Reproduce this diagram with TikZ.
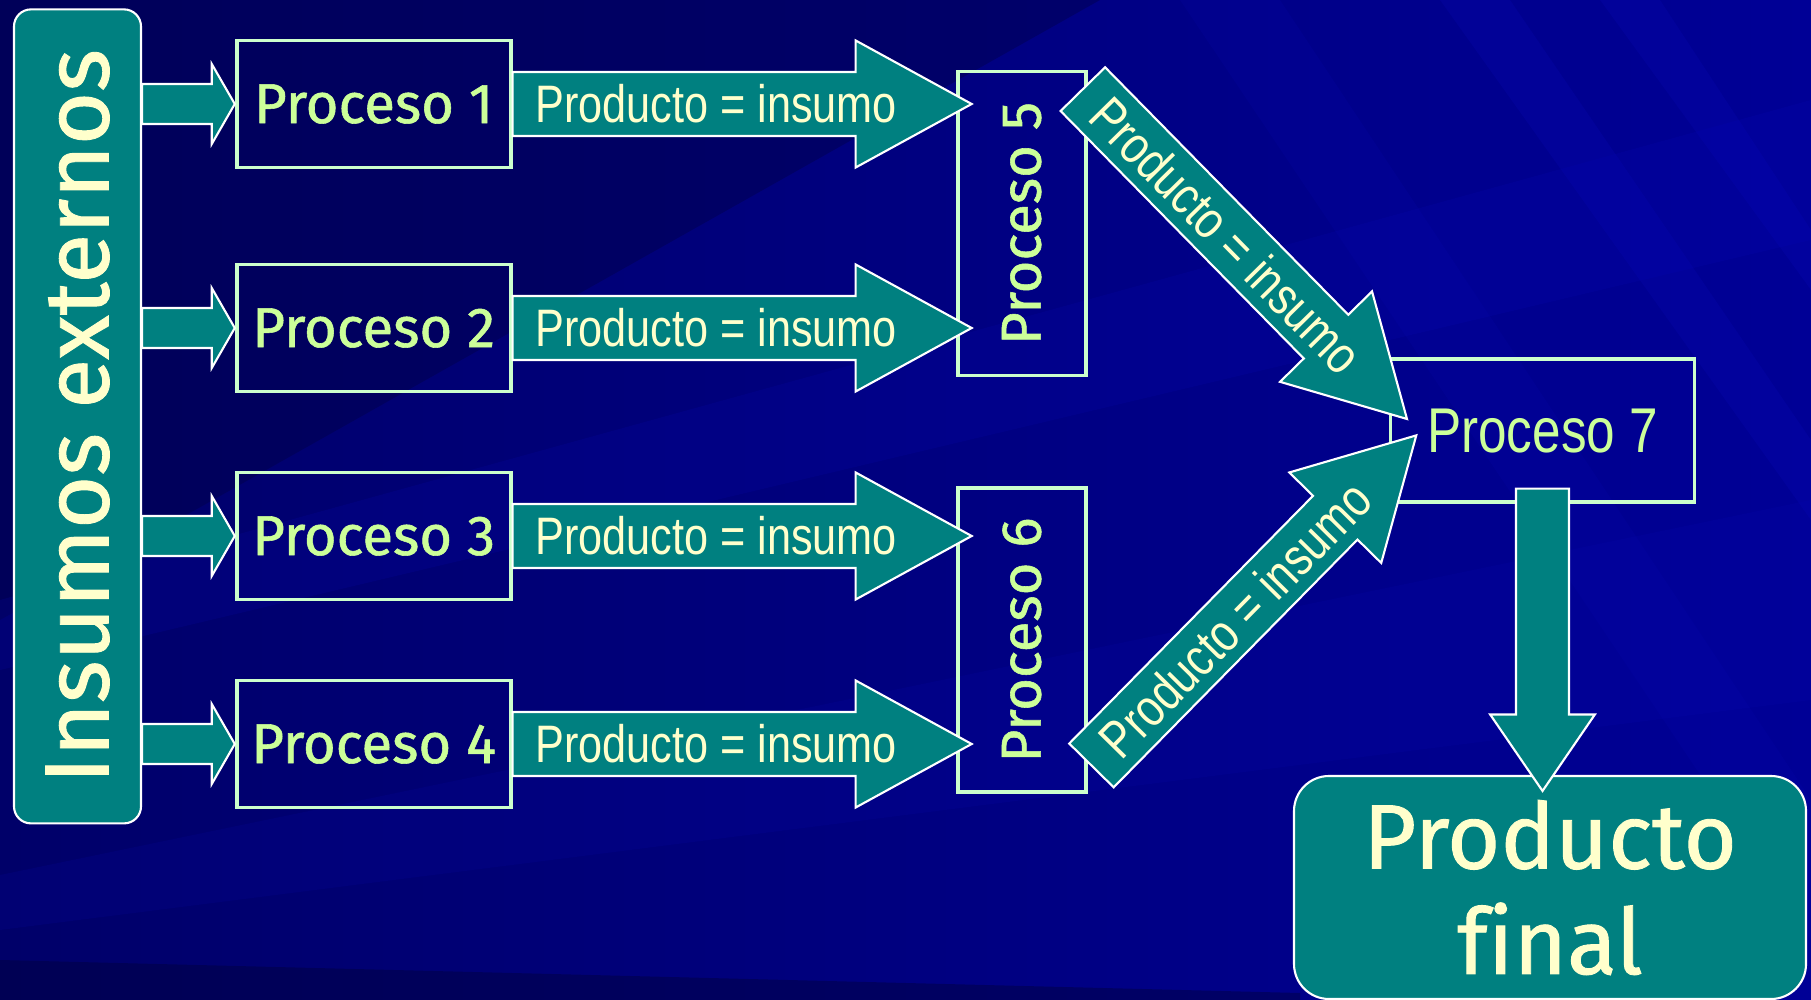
\documentclass[tikz,border=0pt]{standalone}
\usepackage{fontspec}
\newfontfamily\comicfont[Ligatures=NoCommon,FakeBold=1]{Fira Sans}
\newfontfamily\narrowfont{Liberation Sans}
\usetikzlibrary{%
  calc,%
  positioning% wg. " of "
}
\definecolor{teal0}{RGB}{0,128,128}
\definecolor{mint}{RGB}{204,255,204}
\definecolor{lightgreen}{RGB}{204,255,153}
\definecolor{lightyellow}{RGB}{255,255,204}
\definecolor{bgleft}{RGB}{0,0,105}
\definecolor{bgright}{RGB}{0,0,150}
\definecolor{bgdark}{RGB}{0,0,60}
\definecolor{bglight}{RGB}{10,10,190}

% block arrow: from, to, body half width, head half width, head length
\newcommand{\blockarrow}[5]{%
  \coordinate (hb) at ($(#2)!#5!(#1)$);
  \filldraw[blockfill] ($(#1)!#3!90:(#2)$) -- ($(hb)!#3!90:(#2)$) -- ($(hb)!#4!90:(#2)$) -- (#2)
    -- ($(hb)!#4!-90:(#2)$) -- ($(hb)!#3!-90:(#2)$) -- ($(#1)!#3!-90:(#2)$) -- cycle;
}
\newcommand{\prodins}{\scalebox{0.82}[1]{Producto = insumo}}

\begin{document}
\begin{tikzpicture}
[line width=0.6pt,
sidebox/.style={rectangle, draw=white, fill=teal0, rounded corners=0.17cm, inner sep=0pt},
procbox/.style={rectangle, draw=mint, line width=1.1pt, inner sep=0pt, minimum width=2.74cm, minimum height=1.27cm, text=lightgreen, font=\comicfont\fontsize{16}{19}\selectfont},
tallbox/.style={rectangle, draw=mint, line width=1.1pt, inner sep=0pt, minimum width=1.28cm, minimum height=3.04cm},
vtext/.style={rotate=90, inner sep=0pt, text=lightgreen, font=\comicfont\fontsize{16}{19}\selectfont},
blockfill/.style={fill=teal0, draw=white, line width=0.6pt},
prodlabel/.style={pos=0.443, sloped, inner sep=0pt, text=lightyellow, font=\narrowfont\fontsize{15}{18}\selectfont}
]

\shade[left color=bgleft, right color=bgright] (0,0) rectangle (18.11,-10);
\fill[bgdark, opacity=0.35] (0,0) -- (11,0) -- (0,-6.2) -- cycle;
\fill[bglight, opacity=0.15] (0,-6.0) -- (18.11,-1.0) -- (18.11,-2.4) -- (0,-6.7) -- cycle;
\fill[bglight, opacity=0.12] (0,-8.75) -- (18.11,-5.0) -- (18.11,-7.0) -- (0,-9.3) -- cycle;
\fill[bglight, opacity=0.2] (14.4,0) -- (15.1,0) -- (18.11,-4.4) -- (18.11,-5.2) -- cycle;
\fill[bglight, opacity=0.2] (16.0,0) -- (16.6,0) -- (18.11,-2.3) -- (18.11,-2.9) -- cycle;
\fill[bglight, opacity=0.12] (11.8,0) -- (12.8,0) -- (18.11,-8.0) -- (18.11,-9.4) -- cycle;
\fill[bgdark, opacity=0.45] (0,-9.6) -- (13,-9.93) -- (13,-10) -- (0,-10) -- cycle;
\useasboundingbox (0,0) rectangle (18.11,-10);

\node[sidebox, minimum width=1.27cm, minimum height=8.14cm] (ins) at (0.775,-4.164) {};
\node[rotate=90, inner sep=0pt, text=lightyellow, font=\comicfont\fontsize{26}{30}\selectfont] (instext) at (ins) {Insumos externos};

\node[procbox] (pr1) at (3.737,-1.04) {Proceso 1};
\node[procbox] (pr2) at (3.737,-3.28) {Proceso 2};
\node[procbox] (pr3) at (3.737,-5.36) {Proceso 3};
\node[procbox] (pr4) at (3.737,-7.44) {Proceso 4};

\node[tallbox] (pr5) at (10.216,-2.235) {};
\node[vtext] (pr5text) at (pr5) {Proceso 5};
\node[tallbox] (pr6) at (10.216,-6.40) {};
\node[vtext] (pr6text) at (pr6) {Proceso 6};

\node[rectangle, draw=mint, line width=1.1pt, inner sep=0pt, minimum width=3.04cm, minimum height=1.43cm, text=lightgreen, font=\narrowfont\fontsize{18}{21}\selectfont] (pr7) at (15.425,-4.308) {\scalebox{0.81}[1]{Proceso 7}};

\node[sidebox, rounded corners=0.35cm, minimum width=5.12cm, minimum height=2.23cm, align=center, text=lightyellow, font=\comicfont\fontsize{26}{30}\selectfont] (fin) at (15.50,-8.875) {Producto\\final};

\blockarrow{ins.east |- pr1.west}{pr1.west}{0.2cm}{0.4cm}{0.23cm}
\blockarrow{ins.east |- pr2.west}{pr2.west}{0.2cm}{0.4cm}{0.23cm}
\blockarrow{ins.east |- pr3.west}{pr3.west}{0.2cm}{0.4cm}{0.23cm}
\blockarrow{ins.east |- pr4.west}{pr4.west}{0.2cm}{0.4cm}{0.23cm}

\coordinate (in1) at ($(pr5.west |- pr1.east)+(0.16,0)$);
\coordinate (in2) at ($(pr5.west |- pr2.east)+(0.16,0)$);
\coordinate (in3) at ($(pr6.west |- pr3.east)+(0.16,0)$);
\coordinate (in4) at ($(pr6.west |- pr4.east)+(0.16,0)$);

\blockarrow{pr1.east}{in1}{0.32cm}{0.635cm}{1.16cm}
\path (pr1.east) -- (in1) node[prodlabel] (lab1) {\prodins};
\blockarrow{pr2.east}{in2}{0.32cm}{0.635cm}{1.16cm}
\path (pr2.east) -- (in2) node[prodlabel] (lab2) {\prodins};
\blockarrow{pr3.east}{in3}{0.32cm}{0.635cm}{1.16cm}
\path (pr3.east) -- (in3) node[prodlabel] (lab3) {\prodins};
\blockarrow{pr4.east}{in4}{0.32cm}{0.635cm}{1.16cm}
\path (pr4.east) -- (in4) node[prodlabel] (lab4) {\prodins};

\coordinate (out5) at ($(pr5.north east)+(-0.047,-0.196)$);
\coordinate (in7a) at ($(pr7.west)+(0.184,0.118)$);
\blockarrow{out5}{in7a}{0.312cm}{0.645cm}{1.155cm}
\path (out5) -- (in7a) node[prodlabel] (lab5) {\prodins};

\coordinate (out6) at ($(pr6.south east)+(0.039,0.285)$);
\coordinate (in7b) at ($(pr7.west)+(0.277,-0.046)$);
\blockarrow{out6}{in7b}{0.312cm}{0.645cm}{1.155cm}
\path (out6) -- (in7b) node[prodlabel] (lab6) {\prodins};

\coordinate (out7) at ($(pr7.south)+(0,0.156)$);
\coordinate (infin) at ($(pr7.south |- fin.north)+(0,-0.16)$);
\blockarrow{out7}{infin}{0.265cm}{0.524cm}{0.765cm}
\end{tikzpicture}
\end{document}
